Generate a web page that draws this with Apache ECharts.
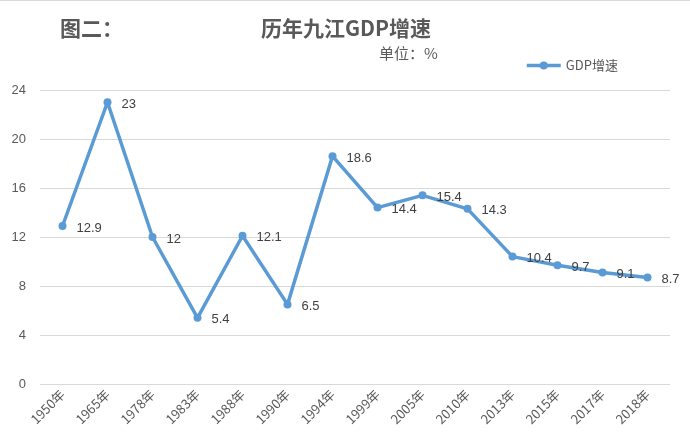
<!DOCTYPE html>
<html><head><meta charset="utf-8">
<script src="https://cdn.jsdelivr.net/npm/echarts@6/dist/echarts.min.js"></script>
<style>html,body{margin:0;padding:0;background:#fff}#c{width:690px;height:441px;box-sizing:border-box;border-top:1px solid #d9d9d9}</style>
</head><body><div id="c"></div>
<script>
const categories = ['1950年','1965年','1978年','1983年','1988年','1990年','1994年','1999年','2005年','2010年','2013年','2015年','2017年','2018年'];
const gdpGrowth = [12.9,23,12,5.4,12.1,6.5,18.6,14.4,15.4,14.3,10.4,9.7,9.1,8.7];
const yTicks = {min:0,max:24,interval:4};
const chart = echarts.init(document.getElementById('c'));
chart.setOption({
  animation:false,
  title:[
    {text:'图二：',left:55,top:12,textStyle:{fontSize:21,fontWeight:'bold',color:'#595959',fontFamily:'Noto Sans CJK SC'}},
    {text:'历年九江GDP增速',left:256,top:12,textStyle:{fontSize:21,fontWeight:'bold',color:'#595959',fontFamily:'Noto Sans CJK SC'}},
    {text:'单位：%',left:374,top:40,textStyle:{fontSize:15,fontWeight:'normal',color:'#595959',fontFamily:'Noto Sans CJK SC'}}
  ],
  legend:{data:['GDP增速'],left:520,top:53,itemWidth:34,itemHeight:10,itemGap:3,
    lineStyle:{width:3.5},
    textStyle:{fontSize:13,color:'#595959',fontFamily:'Noto Sans CJK SC'}},
  grid:{left:40,right:20,top:89,bottom:57},
  xAxis:{type:'category',data:categories,boundaryGap:true,
    axisLine:{show:false},axisTick:{show:false},
    axisLabel:{rotate:45,fontSize:13,color:'#595959',interval:0,margin:8,fontFamily:'Noto Sans CJK SC'}},
  yAxis:{type:'value',min:yTicks.min,max:yTicks.max,interval:yTicks.interval,
    axisLine:{show:false},axisTick:{show:false},
    splitLine:{lineStyle:{color:'#d9d9d9',width:1}},
    axisLabel:{fontSize:13,color:'#595959',margin:14,fontFamily:'Liberation Sans'}},
  series:[{name:'GDP增速',type:'line',data:gdpGrowth,
    symbol:'circle',symbolSize:8,
    lineStyle:{color:'#5B9BD5',width:3.5},
    itemStyle:{color:'#5B9BD5'},
    label:{show:true,position:'right',distance:10,offset:[0,2],fontSize:13,color:'#404040',fontFamily:'Liberation Sans'}}]
});
</script></body></html>
